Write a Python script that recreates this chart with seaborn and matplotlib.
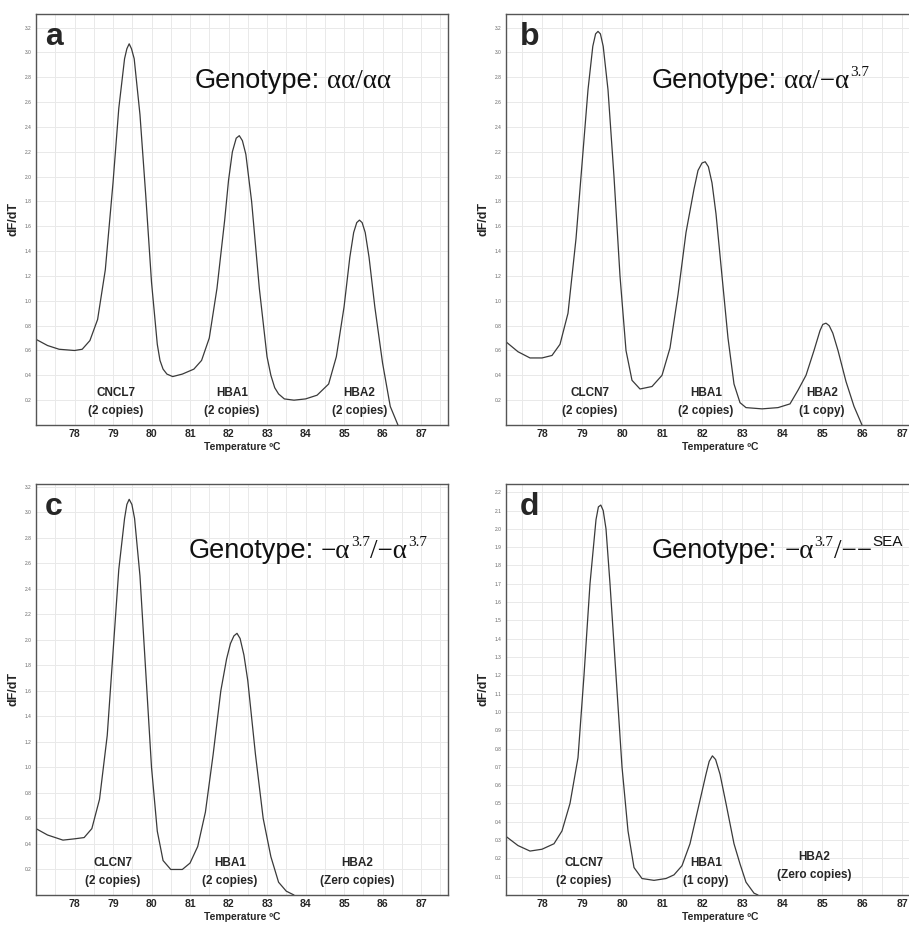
import matplotlib.pyplot as plt
from matplotlib.ticker import MultipleLocator, FormatStrFormatter
import numpy as np
import pandas as pd
import seaborn as sns

# melt curves (temperature in degC, dF/dT)
temp_a = [77.0, 77.3, 77.6, 78.0, 78.2, 78.4, 78.6, 78.8, 79.0, 79.15, 79.3, 79.36,
          79.42, 79.48, 79.55, 79.7, 79.85, 80.0, 80.15, 80.22, 80.3, 80.4, 80.55, 80.8,
          81.1, 81.3, 81.5, 81.7, 81.9, 82.0, 82.1, 82.2, 82.28, 82.36, 82.45, 82.6,
          82.8, 83.0, 83.1, 83.2, 83.3, 83.45, 83.7, 84.0, 84.3, 84.6, 84.8, 85.0,
          85.15, 85.25, 85.33, 85.4, 85.47, 85.55, 85.65, 85.8, 86.0, 86.2, 86.4]
dfdt_a = [0.69, 0.64, 0.61, 0.60, 0.61, 0.68, 0.85, 1.25, 1.95, 2.55, 2.95, 3.03,
          3.07, 3.03, 2.95, 2.5, 1.85, 1.15, 0.65, 0.52, 0.45, 0.41, 0.39, 0.41,
          0.45, 0.52, 0.7, 1.1, 1.65, 1.97, 2.2, 2.31, 2.33, 2.29, 2.18, 1.8,
          1.1, 0.55, 0.4, 0.3, 0.25, 0.21, 0.2, 0.21, 0.24, 0.33, 0.55, 0.95,
          1.35, 1.55, 1.63, 1.65, 1.63, 1.55, 1.35, 0.95, 0.5, 0.15, 0.0]

temp_b = [77.1, 77.4, 77.7, 78.0, 78.25, 78.45, 78.65, 78.85, 79.0, 79.15, 79.27, 79.34,
          79.4, 79.46, 79.53, 79.65, 79.8, 79.95, 80.1, 80.25, 80.45, 80.75, 81.0, 81.2,
          81.4, 81.6, 81.8, 81.9, 82.0, 82.08, 82.16, 82.25, 82.35, 82.5, 82.65, 82.8,
          82.95, 83.1, 83.5, 83.9, 84.2, 84.4, 84.6, 84.8, 84.95, 85.02, 85.1, 85.18,
          85.27, 85.4, 85.6, 85.8, 86.0]
dfdt_b = [0.67, 0.59, 0.54, 0.54, 0.56, 0.65, 0.9, 1.5, 2.1, 2.7, 3.05, 3.15,
          3.17, 3.15, 3.05, 2.7, 2.0, 1.2, 0.6, 0.36, 0.29, 0.31, 0.4, 0.62,
          1.05, 1.55, 1.9, 2.05, 2.11, 2.12, 2.08, 1.95, 1.7, 1.2, 0.7, 0.33,
          0.18, 0.14, 0.13, 0.14, 0.17, 0.28, 0.4, 0.6, 0.76, 0.81, 0.82, 0.8,
          0.74, 0.6, 0.35, 0.15, 0.0]

temp_c = [77.0, 77.3, 77.7, 78.0, 78.25, 78.45, 78.65, 78.85, 79.0, 79.15, 79.3, 79.36,
          79.42, 79.49, 79.56, 79.7, 79.85, 80.0, 80.15, 80.3, 80.5, 80.8, 81.0, 81.2,
          81.4, 81.6, 81.8, 81.95, 82.05, 82.14, 82.22, 82.3, 82.4, 82.5, 82.7, 82.9,
          83.1, 83.3, 83.5, 83.7]
dfdt_c = [0.52, 0.47, 0.43, 0.44, 0.45, 0.52, 0.75, 1.25, 1.9, 2.55, 2.95, 3.06,
          3.1, 3.06, 2.95, 2.5, 1.75, 1.0, 0.5, 0.27, 0.2, 0.2, 0.25, 0.38,
          0.65, 1.1, 1.6, 1.85, 1.97, 2.03, 2.05, 2.01, 1.88, 1.68, 1.1, 0.6,
          0.3, 0.1, 0.03, 0.0]

temp_d = [77.1, 77.4, 77.7, 78.0, 78.3, 78.5, 78.7, 78.9, 79.05, 79.2, 79.35, 79.41,
          79.47, 79.53, 79.6, 79.7, 79.85, 80.0, 80.15, 80.3, 80.5, 80.8, 81.1, 81.3,
          81.5, 81.7, 81.9, 82.1, 82.18, 82.26, 82.34, 82.45, 82.6, 82.8, 82.95, 83.1,
          83.3, 83.4]
dfdt_d = [0.32, 0.27, 0.24, 0.25, 0.28, 0.35, 0.5, 0.75, 1.2, 1.7, 2.05, 2.12,
          2.13, 2.1, 2.0, 1.7, 1.2, 0.7, 0.35, 0.15, 0.09, 0.08, 0.09, 0.11,
          0.16, 0.28, 0.47, 0.66, 0.73, 0.76, 0.74, 0.66, 0.5, 0.28, 0.17, 0.07,
          0.01, 0.0]

panel_letters = ["a", "b", "c", "d"]
# genotype titles as (text, style) pieces: sans / serif / superscript
genotype_pieces = [
    [("Genotype:", "sans"), ("\u03b1\u03b1/\u03b1\u03b1", "serif")],
    [("Genotype:", "sans"), ("\u03b1\u03b1/\u2212\u03b1", "serif"), ("3.7", "sup")],
    [("Genotype:", "sans"), ("\u2212\u03b1", "serif"), ("3.7", "sup"),
     ("/\u2212\u03b1", "serif"), ("3.7", "sup")],
    [("Genotype:", "sans"), ("\u2212\u03b1", "serif"), ("3.7", "sup"),
     ("/\u2212\u2212", "serif"), ("SEA", "supsans")],
]
gene_names = [
    ["CNCL7", "HBA1", "HBA2"],
    ["CLCN7", "HBA1", "HBA2"],
    ["CLCN7", "HBA1", "HBA2"],
    ["CLCN7", "HBA1", "HBA2"],
]
copy_numbers = [
    ["(2 copies)", "(2 copies)", "(2 copies)"],
    ["(2 copies)", "(2 copies)", "(1 copy)"],
    ["(2 copies)", "(2 copies)", "(Zero copies)"],
    ["(2 copies)", "(1 copy)", "(Zero copies)"],
]
x_ticks = list(range(78, 88))

# layout (pixels on a 909x925 canvas): left, top, width, height
W, H = 909, 925
rects = [(36, 14, 412, 411), (506, 14, 428, 411), (36, 484, 412, 411), (506, 484, 428, 411)]
xlims = [(77.0, 87.7), (77.1, 87.8), (77.0, 87.7), (77.1, 87.8)]
ylims = [(0, 3.31), (0, 3.31), (0, 3.22), (0, 2.245)]
ysteps = [0.2, 0.2, 0.2, 0.1]
label_x = [[79.08, 82.09, 85.4], [79.2, 82.1, 85.0], [79.0, 82.04, 85.34], [79.05, 82.1, 84.8]]
label_y = [[0.078] * 3, [0.078] * 3, [0.078] * 3, [0.078, 0.078, 0.093]]
geno_x = [0.385, 0.341, 0.37, 0.341]
letter_x = [0.022, 0.033, 0.022, 0.033]
MAIN_FS, SUP_FS = 19.5, 11

sns.set_theme(style="white")
plt.rcParams["font.family"] = ["Liberation Sans", "DejaVu Sans"]


def draw_genotype(ax, x, y, pieces):
    first = ax.text(x, y, pieces[0][0], transform=ax.transAxes, fontsize=MAIN_FS,
                    ha="left", va="baseline", color="#111111")
    prev = first
    for s, style in pieces[1:]:
        if style.startswith("sup"):
            fam = "Liberation Sans" if style == "supsans" else "Liberation Serif"
            t = ax.annotate(s, xy=(1, 0), xycoords=(prev, first), xytext=(0.6, 10.5),
                            textcoords="offset points", fontsize=SUP_FS, family=fam,
                            va="bottom", ha="left", color="#111111")
        else:
            gap = 5 if prev is first else 0.3
            t = ax.annotate(s, xy=(1, 0), xycoords=(prev, first), xytext=(gap, 0),
                            textcoords="offset points", fontsize=MAIN_FS,
                            family="Liberation Serif", va="bottom", ha="left", color="#111111")
        prev = t


fig = plt.figure(figsize=(W / 100, H / 100), dpi=100)
curves = [(temp_a, dfdt_a), (temp_b, dfdt_b), (temp_c, dfdt_c), (temp_d, dfdt_d)]

for i in range(4):
    l, t, w, h = rects[i]
    ax = fig.add_axes([l / W, 1 - (t + h) / H, w / W, h / H])
    df = pd.DataFrame({"temp": curves[i][0], "dfdt": curves[i][1]})
    sns.lineplot(data=df, x="temp", y="dfdt", ax=ax, color="#3a3a3a",
                 linewidth=0.9, sort=False, estimator=None)

    ax.set_xlim(*xlims[i])
    ax.set_ylim(*ylims[i])
    ax.set_xticks(x_ticks)
    ax.xaxis.set_minor_locator(MultipleLocator(0.5))
    ax.set_yticks(np.arange(ysteps[i], ylims[i][1] - 0.01, ysteps[i]))
    ax.yaxis.set_major_formatter(FormatStrFormatter("%.1f"))
    ax.grid(which="both", color="#e9e9e9", linewidth=0.7)
    ax.set_axisbelow(True)
    ax.tick_params(axis="x", which="both", length=0, pad=3, labelsize=7.5)
    ax.tick_params(axis="y", which="both", length=0, pad=3, labelsize=3.5, labelcolor="#666666")
    for lab in ax.get_xticklabels():
        lab.set_fontweight("bold")
    for sp in ax.spines.values():
        sp.set_color("#555555")
        sp.set_linewidth(1.0)

    ax.set_xlabel("Temperature \u00baC", fontsize=7.5, fontweight="bold", labelpad=2)
    ax.set_ylabel("dF/dT", fontsize=9, fontweight="bold", labelpad=4)

    ax.text(letter_x[i], 0.925, panel_letters[i], transform=ax.transAxes,
            fontsize=23, fontweight="bold", ha="left", va="baseline")
    draw_genotype(ax, geno_x[i], 0.82, genotype_pieces[i])

    trans = ax.get_xaxis_transform()
    for k in range(3):
        ax.text(label_x[i][k], label_y[i][k], gene_names[i][k], transform=trans,
                fontsize=8.5, fontweight="bold", ha="center", va="center")
        ax.text(label_x[i][k], label_y[i][k] - 0.044, copy_numbers[i][k], transform=trans,
                fontsize=8.5, fontweight="bold", ha="center", va="center")

fig.savefig("out.png", dpi=100, facecolor="white")
